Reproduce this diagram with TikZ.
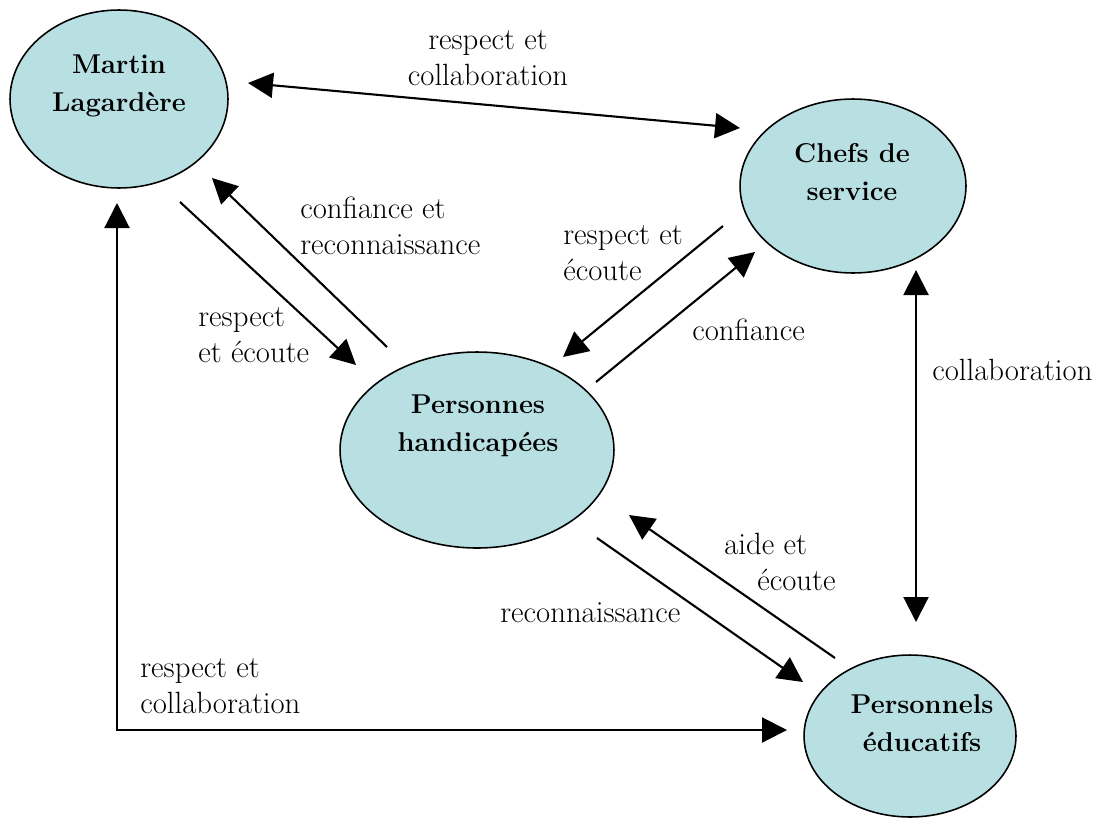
\documentclass[tikz,border=0pt]{standalone}
\usepackage{fontspec}
\usetikzlibrary{shapes.geometric,arrows.meta}
\definecolor{bubble}{RGB}{184,224,227}
\begin{document}
\begin{tikzpicture}[x=0.02cm,y=-0.02cm,
  bubblebox/.style={ellipse,draw=black,line width=0.9pt,fill=bubble,inner sep=0pt},
  bubbletext/.style={align=center,font=\fontsize{15.5}{21.5}\selectfont\bfseries},
  lbl/.style={align=left,anchor=west,inner sep=0pt,font=\fontsize{17.5}{20.5}\selectfont},
  conn/.style={line width=1.2pt,-{Triangle[length=0.5cm,width=0.5cm]}},
  dconn/.style={line width=1.2pt,{Triangle[length=0.5cm,width=0.5cm]}-{Triangle[length=0.5cm,width=0.5cm]}}]
\useasboundingbox (0,0) rectangle (1101,825);
% bubbles
\node[bubblebox,minimum width=4.36cm,minimum height=3.56cm] (ml) at (119,99) {};
\node[bubblebox,minimum width=4.52cm,minimum height=3.48cm] (cs) at (853,186) {};
\node[bubblebox,minimum width=5.48cm,minimum height=3.92cm] (ph) at (477,450) {};
\node[bubblebox,minimum width=4.24cm,minimum height=3.24cm] (pe) at (910,736) {};
\node[bubbletext] (mlt) at (119,86) {Martin\\Lagardère};
\node[bubbletext] (cst) at (852,172) {Chefs de\\service};
\node[bubbletext] (pht) at (478,426) {Personnes\\handicapées};
\node[bubbletext] (pet) at (922,723) {Personnels\\éducatifs};
% free connector ends
\coordinate (a1) at (248,83);  \coordinate (a2) at (740,128);
\coordinate (b1) at (180,202); \coordinate (b2) at (356,365);
\coordinate (c1) at (387,347); \coordinate (c2) at (212,178);
\coordinate (d1) at (723,226); \coordinate (d2) at (563,357);
\coordinate (e1) at (596,382); \coordinate (e2) at (755,252);
\coordinate (f1) at (916,270); \coordinate (f2) at (916,622);
\coordinate (g1) at (597,538); \coordinate (g2) at (803,682);
\coordinate (h1) at (835,658); \coordinate (h2) at (629,515);
\coordinate (k1) at (117,203); \coordinate (kc) at (117,730); \coordinate (k2) at (787,730);
% connectors
\draw[dconn] (a1) -- (a2);
\draw[conn] (b1) -- (b2);
\draw[conn] (c1) -- (c2);
\draw[conn] (d1) -- (d2);
\draw[conn] (e1) -- (e2);
\draw[dconn] (f1) -- (f2);
\draw[conn] (g1) -- (g2);
\draw[conn] (h1) -- (h2);
\draw[dconn] (k1) -- (kc) -- (k2);
% labels
\node[lbl,align=center,anchor=center] (l1) at (488,58) {respect et\\collaboration};
\node[lbl] (l2) at (300,226) {confiance et\\reconnaissance};
\node[lbl] (l3) at (198,335) {respect\\et écoute};
\node[lbl] (l4) at (563,253) {respect et\\écoute};
\node[lbl] (l5) at (692,330) {confiance};
\node[lbl] (l6) at (932,370) {collaboration};
\node[lbl] (l7) at (724,562) {aide et\\\hspace*{0.66cm}écoute};
\node[lbl] (l8) at (500,613) {reconnaissance};
\node[lbl] (l9) at (140,686) {respect et\\collaboration};
\end{tikzpicture}
\end{document}
